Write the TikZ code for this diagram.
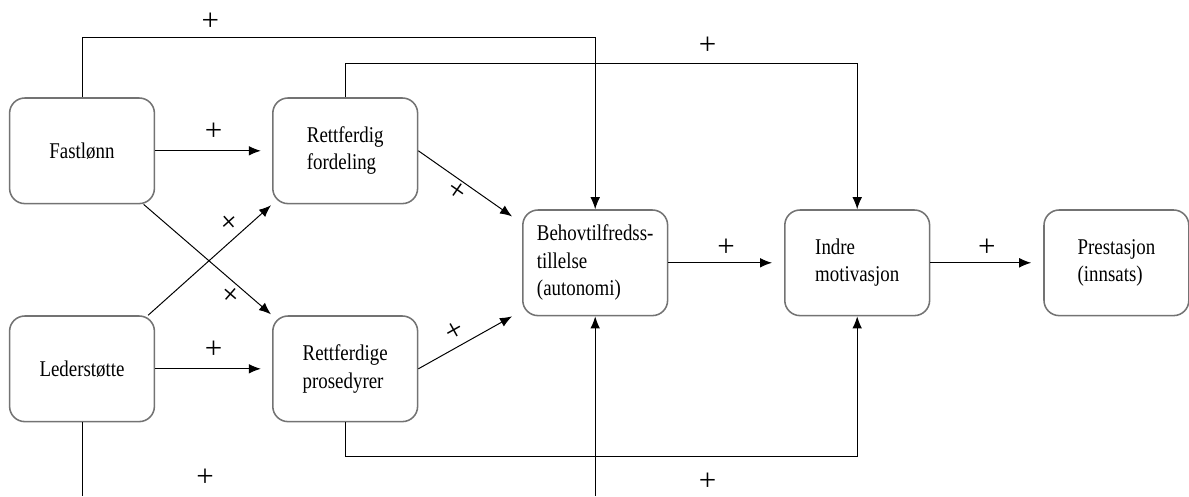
\documentclass[tikz,border=0pt]{standalone}
\usepackage{fontspec}
\setmainfont{Liberation Serif}[FakeStretch=0.84]
\newfontfamily\signfont{Liberation Serif}
\usetikzlibrary{arrows.meta}

\begin{document}
\begin{tikzpicture}[
    >={Latex[length=3mm,width=2.4mm]},
    line width=0.7pt,
    box/.style={draw=black!55, line width=1.1pt, rounded corners=0.38cm,
                minimum width=3.62cm, minimum height=2.64cm, align=left,
                font=\fontsize{16}{19.5}\selectfont},
    sign/.style={font=\signfont\fontsize{22}{22}\selectfont, inner sep=1pt}
  ]
    \useasboundingbox (0,0) rectangle (29.725,12.4);

    \path ( 2.05, 8.63) node [box] (fastlonn) {Fastlønn};
    \path ( 8.63, 8.63) node [box] (fordeling) {Rettferdig\\fordeling};
    \path ( 2.05, 3.18) node [box] (lederstotte) {Lederstøtte};
    \path ( 8.63, 3.18) node [box] (prosedyrer) {Rettferdige\\prosedyrer};
    \path (14.88, 5.83) node [box] (behov) {Behovtilfredss-\\tillelse\\(autonomi)};
    \path (21.43, 5.83) node [box] (indre) {Indre\\motivasjon};
    \path (27.91, 5.83) node [box] (prestasjon) {Prestasjon\\(innsats)};

    \coordinate (ledbot) at (lederstotte.south |- 0,0);
    \coordinate (behovbot) at (behov.south |- 0,0);

    % fra venstre kolonne
    \draw [->, shorten >=0.28cm] (fastlonn.east) -- node [sign, above=6pt] {+} (fordeling.west);
    \draw [->, shorten >=0.28cm] (lederstotte.east) -- node [sign, above=6pt] {+} (prosedyrer.west);
    \draw [->, shorten >=1pt] (fastlonn.-41) -- node [sign, below=1.5pt, sloped, pos=0.735] {+} (prosedyrer.north west);
    \draw [->, shorten >=1pt] (lederstotte.39) -- node [sign, above=2.5pt, sloped, pos=0.735] {+} (fordeling.south west);
    \draw [->] (fastlonn.north) -- ++(0,1.5) -| node [sign, above=3.5pt, pos=0.125] {+} (behov.north);
    \draw (lederstotte.south) -- (ledbot);
    \path (5.13,0.45) node [sign] (ledsign) {+};

    % midten
    \draw [->] (fordeling.east) -- node [sign, below=0.5pt, sloped, pos=0.48] {+} ([xshift=-0.25cm,yshift=-0.18cm]behov.north west);
    \draw [->] (prosedyrer.east) -- node [sign, above=3pt, sloped, pos=0.47] {+} ([xshift=-0.25cm]behov.south west);
    \draw [->] (fordeling.north) -- ++(0,0.85) -| node [sign, above=5pt, pos=0.354] {+} (indre.north);
    \draw [->] (prosedyrer.south) -- ++(0,-0.86) -| node [sign, below=10pt, pos=0.354] {+} (indre.south);
    \draw [->] (behovbot) -- (behov.south);

    % til høyre
    \draw [->, shorten >=0.3cm] (behov.east) -- node [sign, above=3pt] {+} (indre.west);
    \draw [->, shorten >=0.3cm] (indre.east) -- node [sign, above=3pt] {+} (prestasjon.west);
\end{tikzpicture}
\end{document}
